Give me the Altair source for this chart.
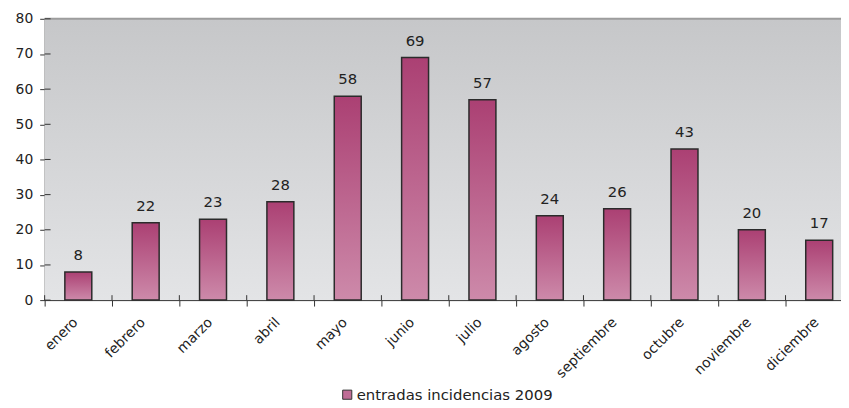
import altair as alt
import pandas as pd

months = ["enero", "febrero", "marzo", "abril", "mayo", "junio", "julio",
          "agosto", "septiembre", "octubre", "noviembre", "diciembre"]
values = [8, 22, 23, 28, 58, 69, 57, 24, 26, 43, 20, 17]
series_name = "entradas incidencias 2009"
y_ticks = [0, 10, 20, 30, 40, 50, 60, 70, 80]

df = pd.DataFrame({"mes": months, "valor": values, "serie": series_name})
ticks_df = pd.DataFrame({"t": y_ticks})
mes_df = pd.DataFrame({"mes": months})
one = pd.DataFrame({"a": [0]})

W = 804
FULL = 816
H = 284
FONT = "DejaVu Sans"

xscale = alt.Scale(range=[0, FULL], paddingInner=0, paddingOuter=0)
xaxis = alt.Axis(title=None, labelAngle=-45, tickBand="extent", labelPadding=9,
                 labelOffset=-8, labelFontSize=14, tickSize=6)
yscale = alt.Scale(domain=[0, 80], nice=False)
yaxis = alt.Axis(title=None, values=y_ticks, labelPadding=7, tickSize=5,
                 labelFontSize=14)

bg_grad = alt.Gradient(gradient="linear",
                       stops=[alt.GradientStop(color="#c6c7c9", offset=0),
                              alt.GradientStop(color="#e3e4e6", offset=1)],
                       x1=0, x2=0, y1=0, y2=1)
bar_grad = alt.Gradient(gradient="linear",
                        stops=[alt.GradientStop(color="#ab4073", offset=0),
                               alt.GradientStop(color="#cd8aaa", offset=1)],
                        x1=0, x2=0, y1=0, y2=1)

background = alt.Chart(one).mark_rect(fill=bg_grad).encode(
    x=alt.value(0), x2=alt.value(FULL), y=alt.value(0), y2=alt.value(H)
)
top_line = alt.Chart(one).mark_rule(color="#9d9d9d", strokeWidth=2).encode(
    x=alt.value(0), x2=alt.value(FULL), y=alt.value(0)
)

xenc = alt.X("mes:N", sort=months, scale=xscale, axis=xaxis)
yenc = alt.Y("valor:Q", scale=yscale, axis=yaxis)

legend_bars = alt.Chart(df).mark_bar(width=alt.RelativeBandSize(0.4)).encode(
    x=xenc, y=yenc,
    color=alt.Color("serie:N", scale=alt.Scale(range=["#c06c96"]),
                    legend=alt.Legend(title=None, orient="none", legendX=298, legendY=372,
                                      symbolType="square", symbolSize=85,
                                      symbolStrokeColor="#333333", symbolStrokeWidth=1,
                                      labelFontSize=15, labelFont=FONT, labelColor="#222222",
                                      labelOffset=2, labelLimit=0))
)
bars = alt.Chart(df).mark_bar(width=alt.RelativeBandSize(0.4), fill=bar_grad,
                              stroke="#2b2b2b", strokeWidth=1.5).encode(
    x=xenc, y=yenc
)
labels = alt.Chart(df).mark_text(font=FONT, fontSize=15, color="#222222",
                                 baseline="alphabetic", dy=-12).encode(
    x=xenc, y=yenc, text=alt.Text("valor:Q")
)
y_inner = alt.Chart(ticks_df).mark_rule(color="#333333", strokeWidth=1).encode(
    y=alt.Y("t:Q", scale=yscale, axis=yaxis), x=alt.value(0), x2=alt.value(6)
)
x_inner = alt.Chart(mes_df).mark_rule(color="#333333", strokeWidth=1).encode(
    x=alt.X("mes:N", sort=months, scale=xscale, axis=xaxis, bandPosition=0),
    y=alt.value(H - 5), y2=alt.value(H)
)

chart = alt.layer(background, top_line, legend_bars, bars, labels, y_inner, x_inner).properties(
    width=W, height=H,
    padding={"left": 37, "top": 9, "right": 0, "bottom": 106},
    autosize=alt.AutoSizeParams(type="none"),
    background="white",
).configure_view(stroke=None).configure_axis(
    labelFont=FONT, labelColor="#222222", domainColor="#333333", tickColor="#333333",
    grid=False, domainWidth=1, tickWidth=1
)

chart.save("out.html", embed_options={"renderer": "svg", "actions": False})
